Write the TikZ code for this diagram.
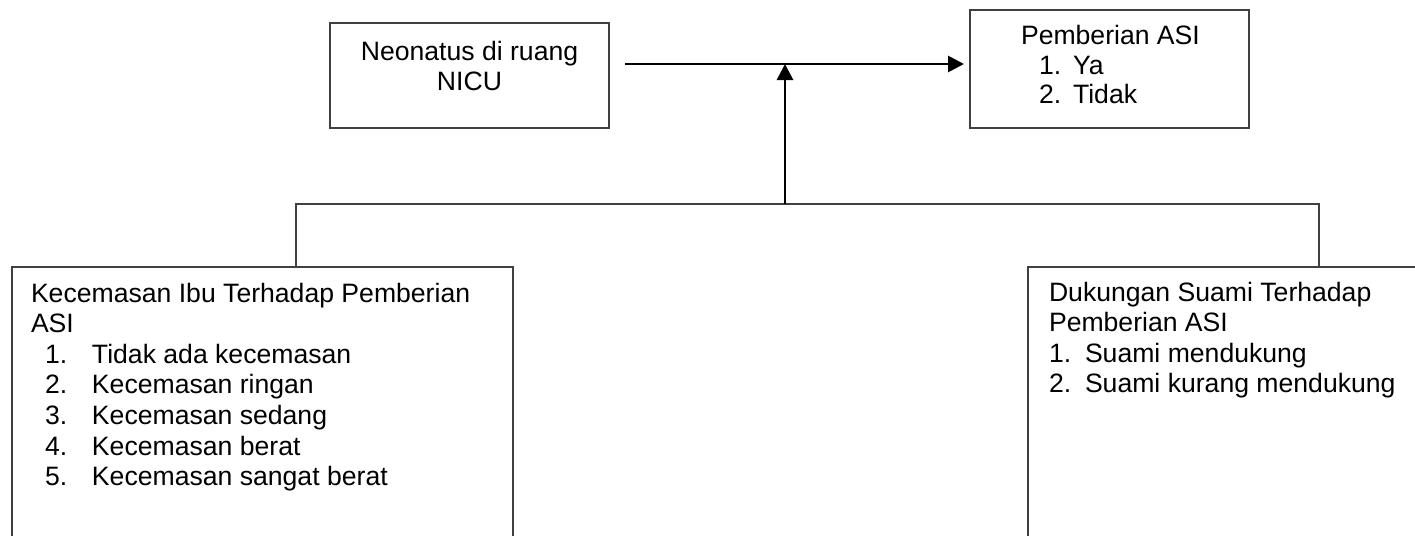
\documentclass[tikz,border=0pt]{standalone}
\usepackage{fontspec}
\setmainfont{Liberation Sans}
\usetikzlibrary{arrows.meta}
\begin{document}
\begin{tikzpicture}[x=1pt,y=1pt,
  boxframe/.style={draw=black!75, line width=1.3pt, rectangle, inner sep=0pt, outer sep=0pt, anchor=north west},
  txt/.style={anchor=base west, inner sep=0pt, outer sep=0pt, font=\fontsize{26.6}{30.6}\selectfont},
  arr/.style={draw=black, line width=2.8pt, -{Triangle[length=16pt,width=16pt]}},
  link/.style={draw=black!75, line width=1.3pt}]
\clip (0,0) rectangle (1415,-535);
\fill[white] (0,0) rectangle (1415,-535);
% boxes
\node[boxframe, minimum width=279pt, minimum height=105pt] (box1) at (330,-23) {};
\node[boxframe, minimum width=279pt, minimum height=118pt] (box2) at (970,-10) {};
\node[boxframe, minimum width=501pt, minimum height=300pt] (box3) at (12,-267) {};
\node[boxframe, minimum width=450pt, minimum height=300pt] (box4) at (1028,-267) {};
% texts
\node[txt] (t1) at (330,-60) {\parbox[t]{279pt}{\centering Neonatus di ruang\\NICU}};
\node[txt] (t2) at (1021,-45) {\parbox[t]{240pt}{\fontsize{26.6}{29.5}\selectfont Pemberian ASI\\
  \hspace*{18pt}\makebox[34pt][l]{1.}Ya\\
  \hspace*{18pt}\makebox[34pt][l]{2.}Tidak}};
\node[txt] (t3) at (31,-302) {\parbox[t]{480pt}{Kecemasan Ibu Terhadap Pemberian\\
  ASI\\
  \hspace*{14pt}\makebox[47pt][l]{1.}Tidak ada kecemasan\\
  \hspace*{14pt}\makebox[47pt][l]{2.}Kecemasan ringan\\
  \hspace*{14pt}\makebox[47pt][l]{3.}Kecemasan sedang\\
  \hspace*{14pt}\makebox[47pt][l]{4.}Kecemasan berat\\
  \hspace*{14pt}\makebox[47pt][l]{5.}Kecemasan sangat berat}};
\node[txt] (t4) at (1049,-301) {\parbox[t]{360pt}{Dukungan Suami Terhadap\\
  Pemberian ASI\\
  \makebox[36pt][l]{1.}Suami mendukung\\
  \makebox[36pt][l]{2.}Suami kurang mendukung}};
% connectors
\coordinate (aS) at (625,-64);
\coordinate (aE) at (964,-64);
\coordinate (jn) at (785,-204);
\coordinate (jL) at (296,-204);
\coordinate (jR) at (1319,-204);
\draw[link] (box3.north -| jL) -- (jL) -- (jR) -- (box4.north -| jR);
\draw[arr] (aS) -- (aE);
\draw[arr] (jn) -- (jn |- aS);
\end{tikzpicture}
\end{document}
